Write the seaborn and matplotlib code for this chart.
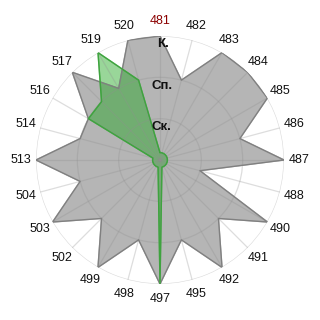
import numpy as np
import pandas as pd
import matplotlib
matplotlib.use("Agg")
import matplotlib.pyplot as plt
import seaborn as sns

categories = ["481", "482", "483", "484", "485", "486", "487", "488", "490", "491",
              "492", "495", "497", "498", "499", "502", "503", "504", "513", "514",
              "516", "517", "519", "520"]
gray_values = [3, 2, 3, 3, 3, 2, 3, 1, 3, 2, 3, 2, 3, 2, 3, 2, 3, 2, 3, 2, 2, 3, 2, 3]
green_values = [0.18, 0.18, 0.18, 0.18, 0.18, 0.18, 0.18, 0.18, 0.18, 0.18,
                0.18, 0.18, 3, 0.18, 0.18, 0.18, 0.18, 0.18, 0.18, 0.18,
                2, 2, 3, 2]
ring_values = [1, 2, 3]
ring_labels = ["Ск.", "Сп.", "К."]

sns.set_theme(style="white")
plt.rcParams["font.family"] = ["Liberation Sans", "DejaVu Sans"]

n = len(categories)
theta = np.arange(n) * 2 * np.pi / n
df = pd.DataFrame({"cat": categories, "theta": theta,
                   "gray": gray_values, "green": green_values})
closed = pd.concat([df, df.iloc[[0]]], ignore_index=True)

fig = plt.figure(figsize=(3.2, 3.2), dpi=100)
ax = fig.add_axes([0.1125, 0.1125, 0.775, 0.775], projection="polar")
ax.set_theta_zero_location("N")
ax.set_theta_direction(-1)
ax.set_ylim(0, 3)

# fills
ax.fill(closed["theta"], closed["gray"], color="#b5b5b5", zorder=1)
ax.fill(closed["theta"], closed["green"], color="#1ea51e", alpha=0.45, zorder=1.5)
sns.lineplot(data=closed, x="theta", y="gray", sort=False, color="#808080",
             lw=1.0, ax=ax, zorder=3, estimator=None)
sns.lineplot(data=closed, x="theta", y="green", sort=False, color="#3fa33f",
             lw=1.0, ax=ax, zorder=3.2, estimator=None)

# grid
ax.set_xticks(theta)
ax.set_yticks(ring_values)
ax.set_xticklabels([])
ax.set_yticklabels([])
ax.grid(True, color="#909090", alpha=0.3, lw=0.9)
ax.set_axisbelow(False)
for gl in ax.xaxis.get_gridlines() + ax.yaxis.get_gridlines():
    gl.set_zorder(2.5)
ax.spines["polar"].set_visible(False)
ax.set_xlabel("")
ax.set_ylabel("")

# category labels
for i, (t, c) in enumerate(zip(theta, categories)):
    ax.text(t, 3.36, c, ha="center", va="center", fontsize=9,
            color="#8b0000" if i == 0 else "#111111", clip_on=False)

# ring labels
for r, lab in zip(ring_values, ring_labels):
    ax.text(0.03, r - 0.2, lab, ha="center", va="center", fontsize=9.5,
            fontweight="bold", color="#111111", zorder=4)

fig.savefig("out.png", dpi=100)
